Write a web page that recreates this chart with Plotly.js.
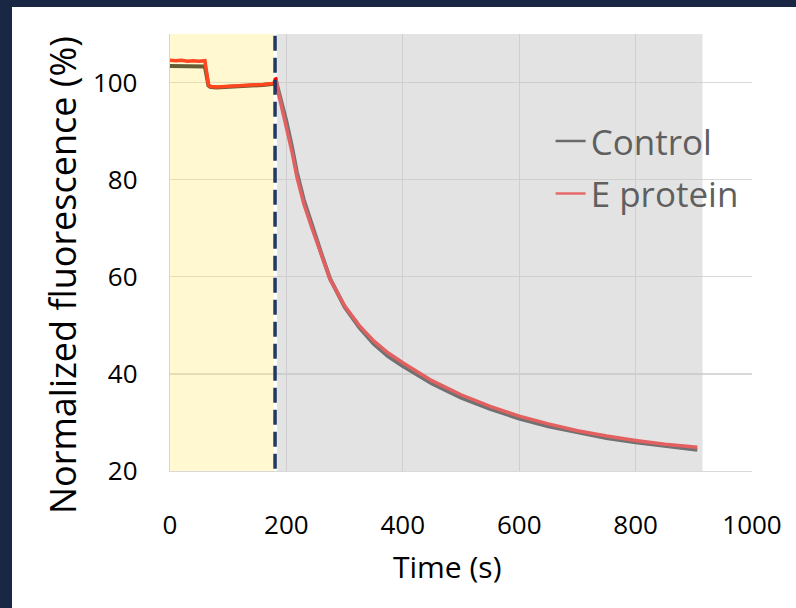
<!DOCTYPE html>
<html>
<head>
<meta charset="utf-8">
<script src="https://cdn.plot.ly/plotly-3.0.1.min.js"></script>
<style>
  html, body { margin: 0; padding: 0; background: #1a2744; width: 796px; height: 608px; overflow: hidden; }
  #chart { position: absolute; left: 12px; top: 7px; width: 784px; height: 601px; background: #ffffff; }
</style>
</head>
<body>
<div id="chart"></div>
<script>
// Time (s)
const timeS = [0,10,20,30,40,50,60,62,64,66,68,70,80,100,120,140,160,175,180,181,182,
  185,190,200,210,218,230,244,260,275,300,325,350,375,400,450,500,550,600,650,700,750,800,850,906];
// Normalized fluorescence (%) - Control
const control = [103.4,103.4,103.3,103.4,103.3,103.4,103.3,
  102.0,100.0,99.4,99.2,99.1,
  99.0,99.1,99.2,99.3,99.5,
  99.7,99.8,100.3,100.4,
  99.0,96.8,92.0,86.5,81.5,
  75.8,70.5,64.8,59.6,
  53.8,49.6,46.2,43.6,41.6,
  38.0,35.1,32.8,30.8,29.2,
  27.9,26.8,25.9,25.1,24.4];
// Normalized fluorescence (%) - E protein
const eProtein = [104.6,104.5,104.6,104.4,104.5,104.4,104.5,
  103.0,100.5,99.6,99.3,99.2,
  99.1,99.2,99.3,99.4,99.6,
  99.8,99.9,100.9,100.8,
  98.5,96.0,91.0,85.5,80.6,
  75.0,70.0,64.5,59.5,
  54.0,50.0,46.8,44.3,42.3,
  38.6,35.7,33.3,31.3,29.7,
  28.3,27.2,26.3,25.5,24.9];
const seriesNames = ['Control', 'E protein'];
const xTicks = [0, 200, 400, 600, 800, 1000];
const yTicks = [20, 40, 60, 80, 100];
const xTitle = 'Time (s)';
const yTitle = 'Normalized fluorescence (%)';
// phase boundaries (s)
const preEnd = 178, markerT = 180.5, postStart = 184, postEnd = 915;

const font = 'Open Sans, sans-serif';
const traces = [
  {x: timeS, y: control, type: 'scatter', mode: 'lines', name: seriesNames[0], showlegend: false,
   line: {color: '#222222', width: 4}},
  {x: timeS, y: eProtein, type: 'scatter', mode: 'lines', name: seriesNames[1], showlegend: false,
   line: {color: '#ff0000', width: 3.5}},
  // legend entries (colours as seen through the shaded overlay)
  {x: [null], y: [null], type: 'scatter', mode: 'lines', name: seriesNames[0], legendgroup: 'a',
   line: {color: '#6a6a6a', width: 2.5}},
  {x: [null], y: [null], type: 'scatter', mode: 'lines', name: seriesNames[1], legendgroup: 'b',
   line: {color: '#e66a6a', width: 2.5}}
];

const layout = {
  width: 784, height: 601,
  margin: {l: 158, r: 44, t: 27, b: 137},
  paper_bgcolor: '#ffffff', plot_bgcolor: '#ffffff',
  font: {family: font, color: '#000000'},
  showlegend: true,
  legend: {x: 0.654, y: 0.822, xanchor: 'left', yanchor: 'top', bgcolor: 'rgba(0,0,0,0)',
    font: {family: font, size: 35, color: '#5f5f5f'}, tracegroupgap: 4, traceorder: 'grouped'},
  xaxis: {range: [0, 1000], tickvals: xTicks, ticktext: xTicks.map(String),
    showgrid: true, gridcolor: '#d9d9d9', gridwidth: 1.3, zeroline: false,
    showline: true, linecolor: '#d9d9d9', linewidth: 1.3, ticks: '',
    ticklabelstandoff: 30, tickfont: {family: font, size: 26, color: '#000'}, automargin: false},
  yaxis: {range: [20, 110], tickvals: yTicks, ticktext: yTicks.map(String),
    showgrid: true, gridcolor: '#d9d9d9', gridwidth: 1.3, zeroline: false,
    showline: true, linecolor: '#e0d9a8', linewidth: 1.3, ticks: '',
    ticklabelstandoff: 26, tickfont: {family: font, size: 26, color: '#000'}, automargin: false},
  annotations: [
    {text: xTitle, xref: 'paper', yref: 'paper', x: 0.476, y: -0.2174, xanchor: 'center', yanchor: 'middle',
     showarrow: false, font: {family: font, size: 30, color: '#000'}},
    {text: yTitle, xref: 'paper', yref: 'paper', x: -0.1856, y: 0.4485, xanchor: 'center', yanchor: 'middle',
     textangle: -90, showarrow: false, font: {family: font, size: 36, color: '#000'}}
  ],
  shapes: [
    {type: 'rect', xref: 'x', yref: 'paper', x0: 0, x1: preEnd, y0: 0, y1: 1, layer: 'above',
     fillcolor: 'rgba(255,232,98,0.3)', line: {width: 0}},
    {type: 'rect', xref: 'x', yref: 'paper', x0: postStart, x1: postEnd, y0: 0, y1: 1, layer: 'above',
     fillcolor: 'rgba(198,198,198,0.486)', line: {width: 0}},
    {type: 'line', xref: 'x', yref: 'paper', x0: markerT, x1: markerT, y0: 0.005, y1: 1, layer: 'above',
     line: {color: '#1f3864', width: 3.5, dash: '15px,7px'}}
  ]
};

Plotly.newPlot('chart', traces, layout, {staticPlot: true, displayModeBar: false});
</script>
</body>
</html>
